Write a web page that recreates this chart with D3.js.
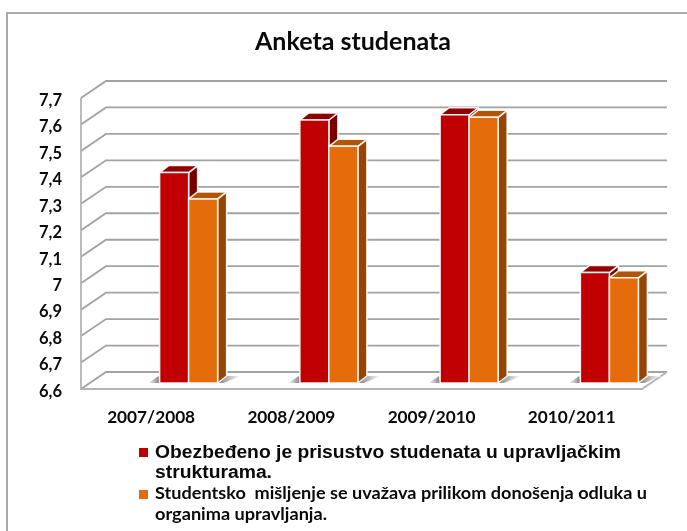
<!DOCTYPE html>
<html>
<head>
<meta charset="utf-8">
<script src="https://cdn.jsdelivr.net/npm/d3@7"></script>
<style>
html, body { margin: 0; padding: 0; background: #fff; overflow: hidden; }
svg { display: block; filter: blur(0.6px); }
text { font-family: Lato, "Open Sans", sans-serif; font-weight: 700; fill: #0a0a0a; }
</style>
</head>
<body>
<div id="chart"></div>
<script>
const categories = ["2007/2008", "2008/2009", "2009/2010", "2010/2011"]
const series_a = [7.4, 7.6, 7.62, 7.02]
const series_b = [7.3, 7.5, 7.61, 7.0]
const y_ticks = [6.6, 6.7, 6.8, 6.9, 7, 7.1, 7.2, 7.3, 7.4, 7.5, 7.6, 7.7]
const title = "Anketa studenata"
const legend_a = ["Obezbeđeno je prisustvo studenata u upravljačkim", "strukturama."]
const legend_b = ["Studentsko  mišljenje se uvažava prilikom donošenja odluka u", "organima upravljanja."]

const width = 687, height = 531

// plot box, front plane and the wall behind it
const left = 81, right = 642, top_y = 98, bottom = 389
const wall_dx = 25, wall_dy = 17
// bar depth and where the bars stand on the floor
const bar_dx = 9, bar_dy = 7, bar_w = 29, bar_shift = 8.5
const bar_base = 383, bar_top = 93.7

const grid_color = "#a2a2a2"

const x = d3.scaleBand().domain(categories).range([left, right])
const y = d3.scaleLinear().domain([6.6, 7.7]).range([bottom, top_y])
// bars sit in the middle of the floor, so they get their own scale
const y_bar = d3.scaleLinear().domain([6.6, 7.7]).range([bar_base, bar_top])

const svg = d3.select("#chart").append("svg")
    .attr("width", width)
    .attr("height", height)

const defs = svg.append("defs")
function add_fade(id, from, to){
    let g = defs.append("linearGradient").attr("id", id)
    g.append("stop").attr("offset", "0").attr("stop-color", from)
    g.append("stop").attr("offset", "1").attr("stop-color", to)
}
add_fade("shade_right", "#808080", "#ffffff")
add_fade("shade_left", "#ffffff", "#808080")

// Frame
svg.append("line").attr("x1", 6).attr("x2", width).attr("y1", 13).attr("y2", 13)
    .attr("stroke", "#8f8f8f").attr("stroke-width", 1.6)
svg.append("line").attr("x1", 7).attr("x2", 7).attr("y1", 13).attr("y2", height)
    .attr("stroke", "#a8a8a8").attr("stroke-width", 2)

// Title
svg.append("text")
    .attr("x", 353).attr("y", 50)
    .attr("text-anchor", "middle")
    .attr("font-size", 25)
    .attr("textLength", 196)
    .attr("lengthAdjust", "spacingAndGlyphs")
    .text(title)

// Walls and gridlines
svg.append("g").selectAll("path").data(y_ticks).join("path")
    .attr("d", d => d3.line()([[left, y(d)], [left + wall_dx, y(d) - wall_dy], [right + wall_dx, y(d) - wall_dy]]))
    .attr("fill", "none")
    .attr("stroke", grid_color)
    .attr("stroke-width", 1.8)

svg.append("path")
    .attr("d", d3.line()([[left, top_y], [left, bottom], [right, bottom], [right + wall_dx, bottom - wall_dy]]))
    .attr("fill", "none")
    .attr("stroke", "#b4b4b4")
    .attr("stroke-width", 1.8)

// Axes
const y_axis = d3.axisLeft(y)
    .tickValues(y_ticks)
    .tickSize(0)
    .tickPadding(19)
    .tickFormat(d => String(d).replace(".", ","))
const y_g = svg.append("g").attr("transform", "translate(" + left + ",2)").call(y_axis)
y_g.select(".domain").remove()
y_g.selectAll("text").attr("font-size", 16.5).style("font-family", null)

const x_axis = d3.axisBottom(x).tickSize(0).tickPadding(0)
const x_g = svg.append("g").attr("transform", "translate(0,411)").call(x_axis)
x_g.select(".domain").remove()
x_g.selectAll("text")
    .attr("font-size", 17)
    .attr("textLength", 88)
    .attr("lengthAdjust", "spacingAndGlyphs")

// Bars
function draw_shadow(g, bx){
    g.append("path")
        .attr("d", d3.line()([[bx + bar_w * 2, bar_base], [bx + bar_w * 2 + bar_dx, bar_base - bar_dy], [bx + bar_w * 2 + bar_dx + 14, bar_base - bar_dy], [bx + bar_w * 2 + 6, bar_base]]) + "Z")
        .attr("fill", "url(#shade_right)")
    g.append("path")
        .attr("d", d3.line()([[bx - 12, bar_base], [bx - 1, bar_base - bar_dy], [bx, bar_base]]) + "Z")
        .attr("fill", "url(#shade_left)")
}

function draw_bar(g, bx, v, front, top, side){
    let ty = y_bar(v)
    let faces = g.append("g").attr("stroke", "#fff").attr("stroke-opacity", 0.9).attr("stroke-width", 1.5).attr("stroke-linejoin", "round")
    faces.append("path")
        .attr("fill", side)
        .attr("d", d3.line()([[bx + bar_w, ty], [bx + bar_w + bar_dx, ty - bar_dy], [bx + bar_w + bar_dx, bar_base - bar_dy], [bx + bar_w, bar_base]]) + "Z")
    faces.append("path")
        .attr("fill", top)
        .attr("d", d3.line()([[bx, ty], [bx + bar_dx, ty - bar_dy], [bx + bar_w + bar_dx, ty - bar_dy], [bx + bar_w, ty]]) + "Z")
    faces.append("rect")
        .attr("x", bx).attr("y", ty)
        .attr("width", bar_w).attr("height", bar_base - ty)
        .attr("fill", front)
}

const bars = svg.append("g")
categories.forEach((c, i) => {
    let bx = x(c) + x.bandwidth() / 2 + bar_shift
    let g = bars.append("g")
    draw_shadow(g, bx)
    draw_bar(g, bx, series_a[i], "#c00000", "#8f0000", "#7a0000")
    draw_bar(g, bx + bar_w, series_b[i], "#e46c0a", "#b25506", "#964505")
})

// Legend
const legend = svg.append("g")
legend.append("rect").attr("x", 139).attr("y", 448).attr("width", 9).attr("height", 9).attr("fill", "#c00000")
legend.append("rect").attr("x", 139).attr("y", 490).attr("width", 9).attr("height", 9).attr("fill", "#e46c0a")

function legend_line(txt, ty, len, family, size){
    legend.append("text")
        .attr("x", 155).attr("y", ty)
        .attr("font-size", size)
        .style("font-family", family)
        .attr("textLength", len)
        .attr("lengthAdjust", "spacingAndGlyphs")
        .style("white-space", "pre")
        .text(txt)
}
legend_line(legend_a[0], 458, 466, "'Liberation Sans'", 18)
legend_line(legend_a[1], 478, 117, "'Liberation Sans'", 18)
legend_line(legend_b[0], 499, 492, "Lato", 17)
legend_line(legend_b[1], 520, 172, "Lato", 17)
</script>
</body>
</html>
